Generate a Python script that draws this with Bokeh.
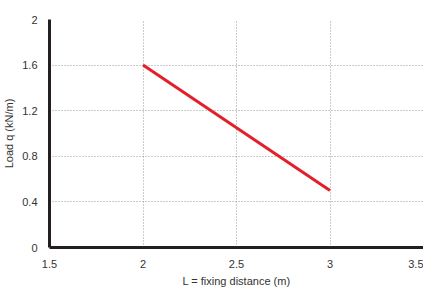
from bokeh.plotting import figure
from bokeh.models import Range1d, FixedTicker
from bokeh.embed import file_html
from bokeh.resources import INLINE

distance = [2.0, 3.0]
load = [1.6, 0.5]
x_ticks = [1.5, 2, 2.5, 3, 3.5]
x_labels = ["1.5", "2", "2.5", "3", "3.5"]
y_ticks = [0, 0.4, 0.8, 1.2, 1.6, 2]
y_labels = ["0", "0.4", "0.8", "1.2", "1.6", "2"]

p = figure(width=423, height=289, output_backend="svg", toolbar_location=None,
           x_range=Range1d(1.5, 3.5), y_range=Range1d(0, 2),
           min_border_left=30, min_border_right=0, min_border_top=19, min_border_bottom=30)
p.outline_line_color = None

p.line(distance, load, line_color="#e3202a", line_width=3)

p.xaxis.ticker = FixedTicker(ticks=x_ticks)
p.yaxis.ticker = FixedTicker(ticks=y_ticks)
p.xaxis.major_label_overrides = {t: l for t, l in zip(x_ticks, x_labels)}
p.yaxis.major_label_overrides = {t: l for t, l in zip(y_ticks, y_labels)}

for ax in (p.xaxis[0], p.yaxis[0]):
    ax.axis_line_width = 3
    ax.axis_line_color = "#231f20"
    ax.major_tick_line_color = None
    ax.minor_tick_line_color = None
    ax.major_label_text_font = "Liberation Sans"
    ax.major_label_text_font_size = "11px"
    ax.major_label_text_color = "#333333"
    ax.axis_label_text_font = "Liberation Sans"
    ax.axis_label_text_font_size = "11px"
    ax.axis_label_text_font_style = "normal"
    ax.axis_label_text_color = "#333333"

p.xaxis.axis_label = "L = fixing distance (m)"
p.yaxis.axis_label = "Load q (kN/m)"
p.xaxis.major_label_standoff = 6
p.yaxis.major_label_standoff = 6
p.xaxis.axis_label_standoff = 4
p.yaxis.axis_label_standoff = 4

for g in (p.xgrid[0], p.ygrid[0]):
    g.grid_line_color = "#999999"
    g.grid_line_dash = "1 2"
    g.grid_line_width = 1

open("out.html", "w").write(file_html(p, INLINE))
